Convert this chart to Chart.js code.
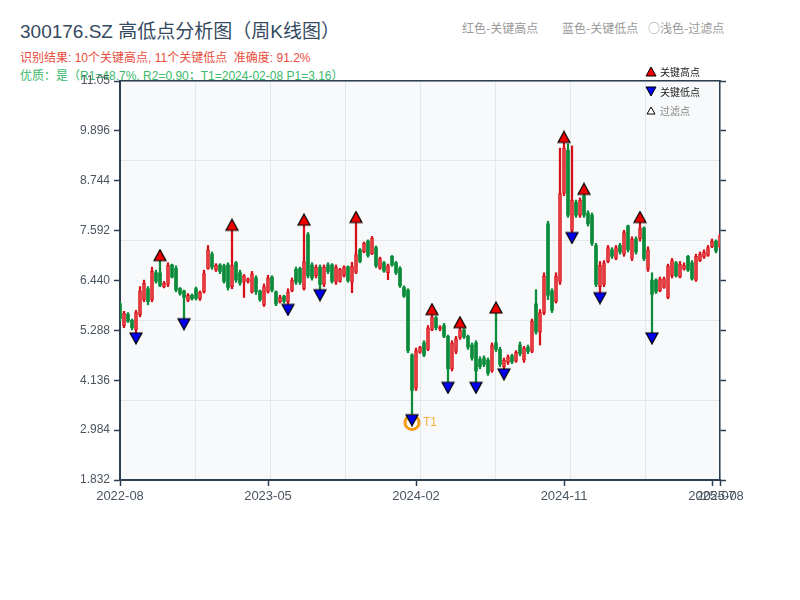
<!DOCTYPE html>
<html>
<head>
<meta charset="utf-8">
<script src="https://cdn.jsdelivr.net/npm/chart.js@4.4.0/dist/chart.umd.min.js"></script>
<style>
body { margin: 0; background: #fff; font-family: 'Liberation Sans', 'Noto Sans CJK SC', sans-serif; }
#wrap { position: relative; width: 800px; height: 600px; }
#kchart { position: absolute; left: 0; top: 0; }
.t { position: absolute; white-space: nowrap; }
.cj { font-family: 'Noto Sans CJK SC', sans-serif; }
.lg { position: absolute; left: 645px; font-size: 10px; line-height: 12px; color: #222; white-space: nowrap; font-family: 'Noto Sans CJK SC', sans-serif; }
.lg svg { vertical-align: -1px; margin-right: 3px; }
</style>
</head>
<body>
<div id="wrap">
  <div class="t" style="left:20px;top:22px;font-size:19px;line-height:19px;color:#34495e;">300176.SZ 高低点分析图（周K线图）</div>
  <div class="t" style="left:20px;top:52px;font-size:12px;line-height:12px;color:#e74c3c;">识别结果: 10个关键高点, 11个关键低点&nbsp;&nbsp;准确度: 91.2%</div>
  <div class="t" style="left:20px;top:70px;font-size:12px;line-height:12px;color:#3cb96b;">优质：是（R1=48.7%, R2=0.90；T1=2024-02-08 P1=3.16）</div>
  <div class="t cj" style="left:462px;top:21px;font-size:12px;line-height:14px;color:#999;">红色-关键高点</div>
  <div class="t cj" style="left:562px;top:21px;font-size:12px;line-height:14px;color:#999;">蓝色-关键低点</div>
  <div class="t cj" style="left:648px;top:21px;font-size:12px;line-height:14px;color:#999;">○浅色-过滤点</div>
  <canvas id="kchart" width="800" height="600"></canvas>
  <div class="lg" style="top:66px;"><svg width="12" height="11"><polygon points="1,10 11,10 6,1" fill="#ee0000" stroke="#000" stroke-width="1"/></svg>关键高点</div>
  <div class="lg" style="top:86px;"><svg width="12" height="11"><polygon points="1,1 11,1 6,10" fill="#0000ee" stroke="#000" stroke-width="1"/></svg>关键低点</div>
  <div class="lg" style="top:105px;color:#888;"><svg width="12" height="11"><polygon points="2,9 10,9 6,2" fill="#fff" stroke="#000" stroke-width="1"/></svg>过滤点</div>
</div>
<script>
// weekly candles, index 0 = first week of 2022-08
const candleOpen = [
  5.90, 5.40, 5.66, 5.52, 5.30, 5.65, 6.00, 6.25, 6.00, 6.62,
  6.62, 6.30, 6.35, 6.80, 6.72, 6.26, 6.20, 5.98, 6.10, 6.25,
  6.02, 6.18, 6.72, 7.05, 6.68, 6.80, 6.78, 6.80, 6.30, 6.85,
  6.62, 6.40, 6.42, 6.18, 6.50, 6.20, 5.88, 6.18, 6.52, 6.18,
  5.95, 6.08, 5.95, 6.20, 6.70, 6.72, 6.25, 7.50, 6.80, 6.55,
  6.75, 6.35, 6.80, 6.80, 6.40, 6.42, 6.55, 6.76, 6.40, 6.63,
  7.15, 7.10, 7.35, 7.06, 7.20, 6.72, 6.85, 6.62, 7.00, 6.85,
  6.72, 6.28, 6.22, 4.72, 3.95, 4.78, 5.00, 4.85, 5.30, 5.58,
  5.32, 5.40, 5.15, 4.40, 4.80, 5.12, 5.30, 5.15, 4.95, 5.00,
  4.62, 4.65, 4.60, 4.35, 5.00, 4.85, 4.45, 4.55, 4.70, 4.58,
  4.95, 4.60, 4.90, 4.80, 5.90, 5.25, 5.70, 7.75, 6.20, 5.95,
  6.40, 8.45, 9.45, 7.60, 8.25, 7.95, 8.40, 8.00, 7.95, 7.25,
  6.30, 6.35, 6.88, 7.15, 6.95, 7.25, 7.05, 7.70, 6.95, 7.40,
  7.40, 7.65, 6.70, 6.45, 6.45, 6.20, 6.28, 6.05, 6.55, 6.85,
  6.52, 6.70, 7.00, 6.85, 6.45, 6.90, 6.98, 7.02, 7.22, 7.35,
  7.22
];
const candleHigh = [
  5.95, 5.73, 5.70, 5.55, 5.75, 6.30, 6.45, 6.30, 6.75, 6.68,
  6.90, 6.42, 6.85, 6.82, 6.78, 6.28, 6.22, 6.14, 6.13, 6.29,
  6.20, 6.68, 7.25, 7.10, 6.83, 6.83, 6.82, 6.85, 7.60, 6.88,
  6.68, 6.58, 6.50, 6.65, 6.55, 6.22, 6.36, 6.56, 6.55, 6.20,
  6.10, 6.10, 6.25, 6.50, 6.75, 6.75, 7.72, 7.55, 6.85, 6.80,
  6.80, 6.80, 6.85, 6.83, 6.80, 6.72, 6.78, 6.78, 6.86, 7.78,
  7.18, 7.33, 7.38, 7.46, 7.24, 6.98, 6.88, 6.82, 7.02, 6.88,
  6.76, 6.32, 6.25, 4.75, 4.88, 4.92, 5.05, 5.40, 5.65, 5.62,
  5.40, 5.45, 5.18, 5.05, 5.15, 5.35, 5.33, 5.18, 5.00, 5.05,
  4.68, 4.70, 4.65, 5.00, 5.69, 4.90, 4.65, 4.72, 4.74, 4.82,
  5.02, 4.92, 4.95, 5.55, 6.23, 5.77, 6.62, 7.81, 6.25, 6.62,
  9.50, 9.63, 9.60, 9.55, 8.30, 8.35, 8.43, 8.05, 8.00, 7.30,
  6.88, 6.90, 7.25, 7.20, 7.25, 7.30, 7.60, 7.72, 7.45, 7.45,
  7.78, 7.68, 7.22, 6.62, 6.48, 6.52, 6.52, 6.82, 6.95, 6.88,
  6.88, 6.85, 7.02, 6.90, 7.05, 7.10, 7.15, 7.25, 7.40, 7.38,
  7.52
];
const candleLow = [
  5.50, 5.35, 5.47, 5.30, 5.23, 5.60, 5.95, 5.88, 5.95, 6.38,
  6.30, 6.27, 6.30, 6.50, 6.18, 6.10, 5.56, 5.95, 5.99, 5.99,
  5.98, 6.15, 6.70, 6.70, 6.65, 6.60, 6.38, 6.22, 6.25, 6.40,
  6.33, 6.05, 6.38, 6.15, 6.12, 5.96, 5.84, 6.15, 6.18, 5.86,
  5.92, 5.92, 5.89, 6.18, 6.35, 6.35, 6.22, 6.50, 6.45, 6.50,
  6.23, 6.30, 6.60, 6.38, 6.35, 6.40, 6.52, 6.40, 6.16, 6.60,
  6.85, 7.08, 6.98, 7.04, 6.74, 6.70, 6.63, 6.46, 6.77, 6.58,
  6.28, 6.05, 4.77, 3.34, 3.90, 4.76, 4.68, 4.82, 5.28, 5.30,
  5.28, 5.12, 4.09, 4.35, 4.75, 5.08, 5.10, 4.85, 4.60, 4.09,
  4.40, 4.45, 4.25, 4.32, 4.80, 4.45, 4.40, 4.50, 4.52, 4.55,
  4.70, 4.55, 4.75, 4.77, 5.20, 4.95, 5.65, 6.00, 5.70, 5.92,
  6.35, 8.40, 7.90, 7.55, 7.90, 7.90, 7.90, 7.70, 7.25, 6.30,
  6.16, 6.30, 6.85, 6.95, 6.92, 7.05, 7.00, 7.10, 6.90, 7.05,
  7.35, 6.90, 6.65, 5.23, 6.14, 6.18, 6.26, 6.02, 6.50, 6.52,
  6.50, 6.68, 6.65, 6.45, 6.42, 6.88, 6.95, 7.00, 7.20, 7.08,
  7.20
];
const candleClose = [
  5.56, 5.68, 5.50, 5.35, 5.70, 6.20, 6.38, 5.95, 6.65, 6.42,
  6.32, 6.38, 6.80, 6.52, 6.22, 6.14, 6.05, 6.10, 6.02, 6.03,
  6.17, 6.60, 7.15, 6.75, 6.80, 6.65, 6.42, 6.28, 6.80, 6.45,
  6.38, 6.55, 6.48, 6.60, 6.18, 6.00, 6.30, 6.50, 6.22, 5.90,
  6.05, 5.96, 6.18, 6.45, 6.40, 6.40, 6.88, 6.55, 6.50, 6.75,
  6.35, 6.75, 6.65, 6.42, 6.75, 6.70, 6.75, 6.44, 6.77, 7.04,
  6.88, 7.30, 7.02, 7.42, 6.78, 6.95, 6.66, 6.78, 6.80, 6.62,
  6.32, 6.08, 4.82, 3.90, 4.82, 4.90, 4.72, 5.35, 5.60, 5.35,
  5.36, 5.15, 4.40, 5.00, 5.10, 5.30, 5.14, 4.90, 4.65, 4.35,
  4.45, 4.50, 4.30, 4.95, 4.85, 4.50, 4.60, 4.68, 4.56, 4.78,
  4.75, 4.88, 4.80, 5.50, 5.25, 5.70, 6.55, 6.10, 5.75, 6.55,
  8.45, 9.50, 7.95, 8.30, 7.95, 8.30, 7.95, 7.75, 7.30, 6.35,
  6.80, 6.85, 7.20, 7.00, 7.20, 7.10, 7.55, 7.15, 7.40, 7.10,
  7.65, 6.95, 7.15, 6.12, 6.18, 6.48, 6.48, 6.78, 6.90, 6.55,
  6.82, 6.80, 6.68, 6.48, 7.00, 7.05, 7.10, 7.20, 7.35, 7.12,
  7.48
];
const keyHighIdx = [10, 28, 46, 59, 78, 85, 94, 111, 116, 130];
const keyLowIdx = [4, 16, 42, 50, 73, 82, 89, 96, 113, 120, 133];
const t1Idx = [73];
const t1Price = [3.16];
const yTicks = [1.832, 2.984, 4.136, 5.288, 6.440, 7.592, 8.744, 9.896, 11.05];
const xTickIdx = [0, 37, 74, 111, 148, 150];
const xTickLabels = ['2022-08', '2023-05', '2024-02', '2024-11', '2025-07', '2025-08'];

const UP = '#d6101a';
const UP_FILL = '#ec4646';
const DOWN = '#0b8c3a';
const AXIS = '#2c3e50';
const GRID = '#e3e7eb';

const yMin = yTicks[0];
const yMax = yTicks[yTicks.length - 1];
const xMax = candleClose.length - 1;

function isUp(i) { return candleClose[i] >= candleOpen[i]; }

// triangle marker whose base sits on the data point
function makeTriangle(fill, up) {
    const w = 12, h = 11;
    const c = document.createElement('canvas');
    c.width = w + 2;
    c.height = 2 * h + 2;
    const g = c.getContext('2d');
    g.beginPath();
    g.moveTo(1, h + 1);
    g.lineTo(w + 1, h + 1);
    g.lineTo(w / 2 + 1, up ? 1 : 2 * h + 1);
    g.closePath();
    g.fillStyle = fill;
    g.fill();
    g.lineWidth = 1.2;
    g.strokeStyle = '#000';
    g.stroke();
    return c;
}

const plotBg = {
    id: 'plotBg',
    beforeDraw(chart) {
        const { ctx, chartArea: a } = chart;
        ctx.save();
        ctx.fillStyle = '#f7f9fb';
        ctx.fillRect(a.left, a.top, a.right - a.left, a.bottom - a.top);
        ctx.restore();
    }
};

const t1Label = {
    id: 't1Label',
    afterDatasetsDraw(chart) {
        const { ctx, scales } = chart;
        ctx.save();
        ctx.fillStyle = '#f5b041';
        ctx.font = '12px "Liberation Sans", "Noto Sans CJK SC", sans-serif';
        ctx.textBaseline = 'middle';
        t1Idx.forEach((idx, k) => {
            ctx.fillText('T' + (k + 1), scales.x.getPixelForValue(idx) + 11, scales.y.getPixelForValue(t1Price[k]));
        });
        ctx.restore();
    }
};

const ctx = document.getElementById('kchart').getContext('2d');
new Chart(ctx, {
    type: 'bar',
    data: {
        datasets: [
            {
                label: 'wick',
                data: candleHigh.map((h, i) => ({ x: i, y: [candleLow[i], h] })),
                backgroundColor: c => isUp(c.dataIndex) ? UP : DOWN,
                borderWidth: 0,
                barThickness: 1.6,
                grouped: false,
                xAxisID: 'x', yAxisID: 'y',
                order: 3
            },
            {
                label: 'body',
                data: candleOpen.map((o, i) => ({ x: i, y: [o, candleClose[i]] })),
                backgroundColor: c => isUp(c.dataIndex) ? UP_FILL : DOWN,
                borderColor: c => isUp(c.dataIndex) ? UP : DOWN,
                borderWidth: c => isUp(c.dataIndex) ? 1 : 0,
                borderSkipped: false,
                barThickness: 3,
                minBarLength: 1.5,
                grouped: false,
                xAxisID: 'x', yAxisID: 'y',
                order: 2
            },
            {
                type: 'scatter',
                label: 'T1',
                data: t1Idx.map((idx, k) => ({ x: idx, y: t1Price[k] })),
                pointStyle: 'circle',
                radius: 7,
                borderWidth: 3,
                borderColor: '#f39c12',
                backgroundColor: 'rgba(0,0,0,0)',
                xAxisID: 'x', yAxisID: 'y',
                order: 1
            },
            {
                type: 'scatter',
                label: '关键高点',
                data: keyHighIdx.map(i => ({ x: i, y: candleHigh[i] })),
                pointStyle: makeTriangle('#ee0000', true),
                radius: 6,
                xAxisID: 'x', yAxisID: 'y',
                order: 0
            },
            {
                type: 'scatter',
                label: '关键低点',
                data: keyLowIdx.map(i => ({ x: i, y: candleLow[i] })),
                pointStyle: makeTriangle('#0000ee', false),
                radius: 6,
                xAxisID: 'x', yAxisID: 'y',
                order: 0
            }
        ]
    },
    options: {
        responsive: false,
        animation: false,
        events: [],
        layout: { padding: { top: 81, left: 0, right: 0, bottom: 0 } },
        plugins: { legend: { display: false }, tooltip: { enabled: false } },
        scales: {
            x: {
                type: 'linear', axis: 'x', position: 'bottom',
                min: 0, max: xMax, offset: false,
                afterBuildTicks: s => { s.ticks = xTickIdx.map(v => ({ value: v })); },
                afterFit: s => { s.height = 120; },
                ticks: {
                    autoSkip: false, maxRotation: 0, minRotation: 0, padding: 3,
                    color: '#4a5560',
                    font: { size: 13, family: "'Liberation Sans', 'Noto Sans CJK SC', sans-serif" },
                    callback: (v, i) => xTickLabels[i]
                },
                grid: { offset: false, drawOnChartArea: false, tickLength: 6, tickColor: AXIS, tickWidth: 1.5 },
                border: { color: AXIS, width: 2 }
            },
            xg: {
                type: 'linear', axis: 'x', position: 'top',
                min: 0, max: xMax, offset: false,
                afterBuildTicks: s => {
                    const t = [];
                    for (let k = 0; k <= 8; k++) t.push({ value: k * xMax / 8 });
                    s.ticks = t;
                },
                afterFit: s => { s.height = 0; },
                ticks: { display: false },
                grid: { offset: false, color: GRID, lineWidth: 1, drawTicks: false },
                border: { color: AXIS, width: 1.5 }
            },
            y: {
                type: 'linear', axis: 'y', position: 'left',
                min: yMin, max: yMax,
                afterBuildTicks: s => { s.ticks = yTicks.map(v => ({ value: v })); },
                afterFit: s => { s.width = 120; },
                ticks: {
                    padding: 4, color: '#4a5560',
                    font: { size: 12, family: "'Liberation Sans', 'Noto Sans CJK SC', sans-serif" },
                    callback: v => Number(v).toPrecision(4)
                },
                grid: { drawOnChartArea: false, tickLength: 6, tickColor: AXIS, tickWidth: 1.5 },
                border: { color: AXIS, width: 2 }
            },
            yg: {
                type: 'linear', axis: 'y', position: 'left',
                min: yMin, max: yMax,
                afterBuildTicks: s => {
                    const t = [];
                    for (let k = 0; k <= 5; k++) t.push({ value: yMin + k * (yMax - yMin) / 5 });
                    s.ticks = t;
                },
                afterFit: s => { s.width = 0; },
                ticks: { display: false },
                grid: { color: GRID, lineWidth: 1, drawTicks: false },
                border: { display: false }
            },
            yr: {
                type: 'linear', axis: 'y', position: 'right',
                min: yMin, max: yMax,
                afterBuildTicks: s => { s.ticks = yTicks.map(v => ({ value: v })); },
                afterFit: s => { s.width = 80; },
                ticks: { callback: () => '' },
                grid: { drawOnChartArea: false, tickLength: 6, tickColor: AXIS, tickWidth: 1.5 },
                border: { color: AXIS, width: 1.5 }
            }
        }
    },
    plugins: [plotBg, t1Label]
});
</script>
</body>
</html>
